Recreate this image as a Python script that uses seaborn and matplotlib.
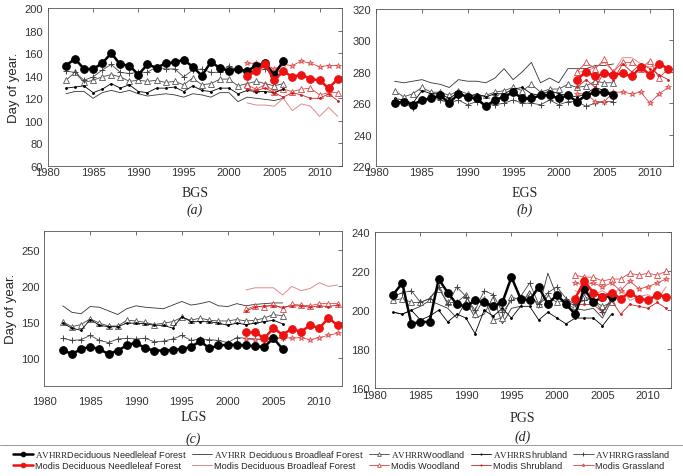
import matplotlib
matplotlib.use("Agg")
import matplotlib.pyplot as plt
import seaborn as sns
import pandas as pd

# years
avhrr_years = list(range(1982, 2007))
modis_years = list(range(2002, 2013))

# ---- BGS (a) ----
bgs_avhrr_dnf = [149, 155, 146, 146, 151, 160, 150, 149, 141, 150, 147, 151, 152, 154, 148, 140, 152, 147, 144, 146, 144, 149, 151, 141, 153]
bgs_avhrr_dbf = [124, 126, 126, 120, 125, 127, 125, 127, 124, 122, 123, 124, 123, 121, 124, 123, 121, 125, 125, 117, 121, 120, 119, 118, 120]
bgs_avhrr_wood = [136, 143, 134, 136, 139, 141, 139, 135, 136, 135, 136, 134, 135, 132, 138, 132, 133, 137, 137, 131, 133, 135, 133, 131, 133]
bgs_avhrr_shrub = [129, 130, 131, 125, 128, 133, 129, 132, 126, 125, 129, 129, 130, 126, 131, 127, 126, 129, 129, 124, 127, 126, 126, 125, 128]
bgs_avhrr_grass = [144, 143, 136, 139, 145, 150, 143, 142, 143, 143, 148, 146, 146, 139, 145, 146, 143, 143, 149, 144, 143, 144, 146, 142, 145]
bgs_modis_dnf = [140, 144, 150, 136, 144, 139, 141, 137, 136, 129, 137]
bgs_modis_dbf = [116, 114, 114, 113, 120, 109, 115, 113, 104, 112, 104]
bgs_modis_wood = [132, 128, 132, 126, 128, 126, 128, 129, 123, 125, 125]
bgs_modis_shrub = [128, 127, 129, 125, 121, 125, 123, 120, 120, 124, 118]
bgs_modis_grass = [151, 151, 150, 146, 150, 149, 153, 151, 148, 149, 149]

# ---- EGS (b) ----
egs_avhrr_dnf = [260, 261, 259, 262, 263, 265, 260, 266, 264, 263, 258, 262, 264, 267, 263, 263, 265, 265, 263, 265, 261, 265, 267, 267, 265]
egs_avhrr_dbf = [274, 273, 274, 275, 273, 272, 270, 275, 274, 274, 273, 276, 282, 275, 280, 286, 273, 276, 273, 282, 282, 282, 284, 284, 285]
egs_avhrr_wood = [268, 264, 266, 270, 267, 267, 265, 268, 266, 264, 265, 267, 268, 270, 268, 272, 267, 269, 269, 272, 270, 271, 274, 273, 273]
egs_avhrr_shrub = [263, 262, 260, 268, 266, 266, 263, 267, 264, 266, 264, 266, 266, 269, 270, 266, 265, 268, 266, 265, 264, 266, 270, 268, 266]
egs_avhrr_grass = [262, 260, 257, 262, 264, 262, 260, 262, 259, 261, 259, 259, 260, 262, 260, 260, 259, 262, 259, 261, 261, 258, 260, 261, 261]
egs_modis_dnf = [275, 280, 277, 279, 278, 279, 277, 283, 278, 285, 282]
egs_modis_dbf = [280, 280, 283, 286, 280, 289, 289, 285, 283, 285, 283]
egs_modis_wood = [280, 286, 282, 288, 280, 286, 286, 282, 287, 276, 282]
egs_modis_shrub = [270, 275, 270, 280, 275, 285, 280, 285, 282, 278, 275]
egs_modis_grass = [266, 266, 261, 261, 267, 267, 266, 267, 260, 266, 270]

# ---- LGS (c) ----
lgs_avhrr_dnf = [111, 105, 112, 115, 112, 105, 110, 117, 121, 113, 110, 110, 111, 112, 115, 123, 113, 117, 118, 118, 117, 116, 115, 127, 112]
lgs_avhrr_dbf = [172, 163, 161, 171, 170, 165, 160, 168, 172, 170, 169, 168, 173, 178, 173, 175, 178, 172, 171, 175, 172, 174, 175, 176, 176]
lgs_avhrr_wood = [150, 143, 146, 154, 148, 144, 144, 152, 151, 149, 146, 148, 150, 156, 152, 155, 152, 151, 151, 153, 151, 152, 155, 160, 158]
lgs_avhrr_shrub = [148, 141, 138, 153, 145, 143, 143, 148, 148, 147, 145, 145, 141, 157, 150, 150, 150, 148, 145, 148, 146, 148, 150, 152, 147]
lgs_avhrr_grass = [127, 124, 125, 131, 124, 121, 126, 127, 126, 127, 122, 123, 126, 131, 124, 126, 125, 124, 121, 128, 127, 126, 125, 127, 128]
lgs_modis_dnf = [135, 135, 127, 141, 132, 140, 136, 145, 141, 155, 145]
lgs_modis_dbf = [194, 197, 197, 197, 187, 199, 193, 196, 204, 199, 201]
lgs_modis_wood = [167, 172, 170, 174, 168, 174, 173, 172, 175, 175, 175]
lgs_modis_shrub = [165, 170, 172, 172, 170, 172, 172, 170, 172, 171, 173]
lgs_modis_grass = [126, 125, 127, 125, 128, 127, 128, 125, 128, 131, 134]

# ---- PGS (d) ----
pgs_avhrr_dnf = [208, 214, 193, 194, 194, 216, 209, 203, 202, 205, 204, 202, 204, 217, 206, 205, 212, 203, 208, 203, 198, 211, 204, 207, 207]
pgs_avhrr_dbf = [199, 198, 200, 202, 205, 203, 201, 196, 205, 196, 198, 207, 193, 201, 202, 210, 201, 219, 207, 203, 201, 200, 201, 196, 205]
pgs_avhrr_wood = [205, 206, 204, 204, 206, 211, 204, 204, 208, 198, 206, 195, 196, 207, 205, 208, 203, 207, 204, 205, 202, 207, 205, 202, 204]
pgs_avhrr_shrub = [199, 198, 200, 195, 197, 200, 194, 198, 196, 188, 200, 197, 201, 196, 202, 202, 195, 199, 196, 193, 196, 196, 196, 192, 198]
pgs_avhrr_grass = [207, 209, 210, 204, 206, 212, 203, 212, 207, 200, 210, 208, 199, 205, 207, 214, 203, 209, 212, 206, 203, 205, 206, 199, 206]
pgs_modis_dnf = [206, 215, 209, 207, 209, 206, 209, 206, 205, 208, 207]
pgs_modis_dbf = [210, 208, 208, 210, 207, 212, 205, 207, 208, 205, 212]
pgs_modis_wood = [218, 217, 217, 215, 216, 216, 219, 218, 219, 218, 220]
pgs_modis_shrub = [203, 203, 203, 199, 205, 198, 203, 202, 201, 204, 201]
pgs_modis_grass = [214, 213, 214, 212, 214, 210, 215, 211, 212, 214, 216]

sns.set_style("white")
plt.rcParams["font.family"] = ["Liberation Sans", "DejaVu Sans"]
plt.rcParams["mathtext.fontset"] = "custom"
plt.rcParams["mathtext.rm"] = "Liberation Serif"

red = "#ee1111"
pale = "#e08a8a"

styles = {
    "avhrr_dnf": dict(color="black", lw=1.8, marker="o", ms=5.5, mfc="black", mec="black"),
    "modis_dnf": dict(color=red, lw=1.8, marker="o", ms=5.5, mfc=red, mec=red),
    "avhrr_dbf": dict(color="#333333", lw=0.6),
    "modis_dbf": dict(color=pale, lw=0.7),
    "avhrr_wood": dict(color="#444444", lw=0.6, marker="^", ms=4.5, mfc="white", mec="#555555", mew=0.6),
    "modis_wood": dict(color="#dd4444", lw=0.6, marker="^", ms=4.5, mfc="white", mec="#dd4444", mew=0.6),
    "avhrr_shrub": dict(color="black", lw=0.6, marker=".", ms=2.5, mec="black", mfc="black"),
    "modis_shrub": dict(color="#cc2222", lw=0.6, marker=".", ms=2.5, mec="#cc2222", mfc="#cc2222"),
    "avhrr_grass": dict(color="#444444", lw=0.6, marker="+", ms=5, mew=0.7, mec="#444444"),
    "modis_grass": dict(color="#dd4444", lw=0.6, marker="*", ms=4, mew=0.5, mec="#dd4444", mfc="#f0a0a0"),
}

labels = {
    "avhrr_dnf": r"$\mathrm{AVHRR}$Deciduous Needleleaf Forest",
    "modis_dnf": "Modis Deciduous Needleleaf Forest",
    "avhrr_dbf": r"$\mathrm{AVHRR}$ Deciduous Broadleaf Forest",
    "modis_dbf": "Modis Deciduous Broadleaf Forest",
    "avhrr_wood": r"$\mathrm{AVHRR}$Woodland",
    "modis_wood": "Modis Woodland",
    "avhrr_shrub": r"$\mathrm{AVHRR}$Shrubland",
    "modis_shrub": "Modis Shrubland",
    "avhrr_grass": r"$\mathrm{AVHRR}$Grassland",
    "modis_grass": "Modis Grassland",
}

fig = plt.figure(figsize=(6.83, 4.77), dpi=100)

# prefix, name, tag, ylim, yticks, rect, ylabel, name offset, tag offset, x tick pad
panel_specs = [
    ("bgs", "BGS", "(a)", (60, 200), list(range(60, 201, 20)), [0.070, 0.650, 0.431, 0.331], True, 0.055, 0.091, 1),
    ("egs", "EGS", "(b)", (220, 320), list(range(220, 321, 20)), [0.551, 0.650, 0.434, 0.329], False, 0.055, 0.091, 1),
    ("lgs", "LGS", "(c)", (61, 276), [100, 150, 200, 250], [0.065, 0.189, 0.436, 0.325], True, 0.065, 0.109, 7),
    ("pgs", "PGS", "(d)", (160, 240), list(range(160, 241, 20)), [0.549, 0.184, 0.433, 0.327], False, 0.062, 0.100, 1),
]

order = ["dbf", "wood", "shrub", "grass", "dnf"]
handles = {}
for prefix, name, tag, ylim, yticks, rect, ylab, off1, off2, pad in panel_specs:
    ax = fig.add_axes(rect)
    for kind in order:
        for src, years in (("avhrr", avhrr_years), ("modis", modis_years)):
            key = f"{src}_{kind}"
            vals = globals()[f"{prefix}_{key}"]
            df = pd.DataFrame({"year": years, "doy": vals})
            sns.lineplot(data=df, x="year", y="doy", ax=ax, label=labels[key], legend=False, **styles[key])
            handles[key] = ax.lines[-1]
    ax.set_xlim(1980, 2012.5)
    ax.set_ylim(*ylim)
    ax.set_xticks(range(1980, 2011, 5))
    ax.set_yticks(yticks)
    ax.tick_params(direction="in", top=True, right=True, length=3, labelsize=8, width=0.5, colors="#333333")
    ax.tick_params(axis="x", pad=pad)
    for sp in ax.spines.values():
        sp.set_linewidth(0.6)
        sp.set_color("#555555")
    ax.set_xlabel("")
    ax.set_ylabel("Day of year." if ylab else "", fontsize=9.5, labelpad=3)
    cx = rect[0] + rect[2] / 2
    yb = rect[1]
    fig.text(cx, yb - off1, name, ha="center", va="center", family="Liberation Serif", fontsize=10)
    fig.text(cx, yb - off2, tag, ha="center", va="center", family="Liberation Serif", fontsize=10, style="italic")

leg_keys = ["avhrr_dnf", "modis_dnf", "avhrr_dbf", "modis_dbf", "avhrr_wood", "modis_wood",
            "avhrr_shrub", "modis_shrub", "avhrr_grass", "modis_grass"]
fig.legend([handles[k] for k in leg_keys], [labels[k] for k in leg_keys], ncol=5,
           loc="lower center", bbox_to_anchor=(0.5, -0.005), fontsize=6.6, frameon=False,
           handlelength=2.2, handletextpad=0.2, columnspacing=0.6, labelspacing=0.25, markerscale=0.6)
fig.add_artist(plt.Line2D([0, 1], [0.064, 0.064], color="#888888", lw=0.6, transform=fig.transFigure))

fig.savefig("out.png", dpi=100)
